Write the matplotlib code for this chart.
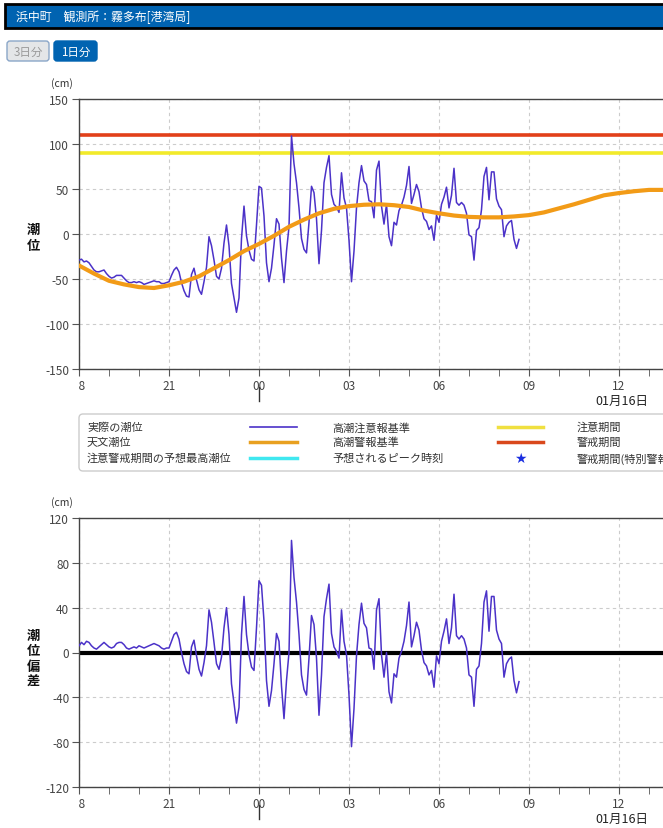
import matplotlib
matplotlib.use('Agg')
import matplotlib.pyplot as plt
import numpy as np
from matplotlib.patches import Rectangle, FancyBboxPatch
from matplotlib.lines import Line2D
from matplotlib.transforms import Bbox, TransformedBbox

plt.rcParams['font.family'] = ['Noto Sans CJK JP', 'DejaVu Sans']

# 観測値 (cm)  18:00 から 5分ごと、1行 = 1時間
STEP_MIN = 5
tide_obs = [
    -29, -28, -31, -30, -32, -36, -40, -42, -42, -41, -40, -44,   # 18時
    -47, -49, -48, -46, -46, -46, -49, -52, -54, -54, -53, -54,   # 19時
    -53, -54, -56, -55, -54, -53, -52, -53, -53, -55, -55, -54,   # 20時
    -53, -46, -40, -37, -42, -54, -63, -69, -70, -45, -38, -51,   # 21時
    -62, -67, -53, -37, -3, -13, -29, -47, -50, -38, -10, 10,     # 22時
    -13, -55, -71, -87, -71, -5, 31, -2, -18, -28, -30, 10,       # 23時
    53, 51, 20, -32, -53, -38, -12, 17, 11, -27, -54, -19,        # 00時
    8, 109, 78, 57, 29, -5, -17, -21, 13, 53, 46, 17,             # 01時
    -33, 4, 57, 74, 87, 44, 33, 30, 24, 68, 40, 29,               # 02時
    -7, -53, -19, 29, 57, 76, 59, 55, 37, 36, 18, 71,             # 03時
    81, 31, 11, 33, -3, -13, 13, 10, 26, 32, 41, 54,              # 04時
    75, 34, 44, 55, 47, 29, 17, 14, 5, 9, -7, 21,                 # 05時
    13, 33, 41, 52, 29, 43, 73, 35, 32, 35, 32, 23,               # 06時
    -1, -3, -29, 4, 7, 27, 64, 74, 38, 69, 69, 39,                # 07時
    31, 27, -3, 9, 13, 15, -6, -16, -6,                           # 08時
]

# 潮位偏差 (cm)  同じ時刻
tide_dev = [
    6, 9, 7, 10, 9, 6, 4, 3, 5, 7, 9, 7,
    5, 4, 5, 8, 9, 9, 7, 4, 3, 4, 5, 4,
    6, 5, 4, 5, 6, 7, 8, 7, 6, 4, 3, 4,
    4, 10, 16, 18, 12, 0, -10, -17, -19, 5, 11, -3,
    -15, -21, -9, 6, 38, 27, 9, -10, -15, -4, 22, 40,
    16, -28, -45, -63, -49, 16, 50, 16, -2, -13, -16, 22,
    64, 60, 28, -25, -48, -34, -10, 17, 10, -30, -59, -25,
    0, 100, 67, 45, 16, -20, -33, -38, -5, 33, 25, -5,
    -56, -20, 32, 48, 61, 17, 5, 1, -5, 38, 10, -2,
    -38, -84, -50, -3, 25, 44, 26, 22, 4, 3, -15, 38,
    48, -2, -22, 0, -35, -45, -19, -22, -5, 1, 10, 24,
    45, 5, 15, 27, 20, 2, -9, -12, -20, -16, -31, -3,
    -10, 10, 19, 30, 8, 22, 52, 15, 12, 15, 12, 4,
    -20, -22, -48, -15, -12, 8, 45, 55, 19, 50, 50, 20,
    12, 8, -22, -10, -6, -4, -25, -36, -26,
]

# 天文潮位 (cm)  18:00 から 30分ごと
ASTRO_STEP_MIN = 30
tide_astro = [
    -35, -44, -52, -56, -59, -60, -57, -53, -47, -38,
    -29, -19, -11, -2, 8, 16, 23, 28, 31, 32.5,
    33, 32, 30, 26, 23, 20.5, 19, 18.5, 18.5, 19.5,
    21, 24, 28.5, 33, 38, 43, 45.5, 47.5, 49, 49,
]

warn_level = 110       # 高潮警報基準
advisory_level = 90    # 高潮注意報基準

hour_ticks = [0, 3, 6, 9, 12, 15, 18]
hour_labels = ['18', '21', '00', '03', '06', '09', '12']
date_label = '01月16日'

legend_rows = [
    ['実際の潮位', '高潮注意報基準', '注意期間'],
    ['天文潮位', '高潮警報基準', '警戒期間'],
    ['注意警戒期間の予想最高潮位', '予想されるピーク時刻', '警戒期間(特別警報)'],
]

OBS_C = '#4b32c8'
ASTRO_C = '#f29b17'
WARN_C = '#e2401a'
ADV_C = '#f2ea2a'

W, H = 663, 829
fig = plt.figure(figsize=(W / 100, H / 100), dpi=100)
inch = fig.dpi_scale_trans


def rect(x0, y0, x1, y1):
    return [x0 / W, 1 - y1 / H, (x1 - x0) / W, (y1 - y0) / H]


def px(x, y):
    return x / 100, (H - y) / 100


# ヘッダー
fig.patches.append(Rectangle(px(5, 29), 700 / 100, 24 / 100, transform=inch,
                             facecolor='#0063b1', edgecolor='black', lw=2))
fig.text(*px(16, 17), '浜中町　観測所：霧多布[港湾局]', transform=inch,
         color='white', fontsize=8.6, va='center')

# ボタン
fig.patches.append(FancyBboxPatch(px(7, 62), 42 / 100, 20 / 100, transform=inch,
                                  boxstyle='round,pad=0,rounding_size=0.03',
                                  facecolor='#e4e6e8', edgecolor='#8aa6c8', lw=1))
fig.text(*px(28, 52), '3日分', transform=inch, color='#9a9a9a', fontsize=8.3,
         ha='center', va='center')
fig.patches.append(FancyBboxPatch(px(54, 62), 43 / 100, 20 / 100, transform=inch,
                                  boxstyle='round,pad=0,rounding_size=0.03',
                                  facecolor='#0063b1', edgecolor='#0063b1', lw=1))
fig.text(*px(75.5, 52), '1日分', transform=inch, color='white', fontsize=8.3,
         ha='center', va='center')

t_obs = np.arange(len(tide_obs)) * STEP_MIN / 60
t_astro = np.arange(len(tide_astro)) * ASTRO_STEP_MIN / 60
x_max = (W - 79) / 30


def style_axes(ax, top_px, bottom_px, yticks):
    ax.set_xlim(0, x_max)
    ax.set_yticks(yticks)
    ax.set_yticklabels([str(v) for v in yticks])
    ax.set_xticks(hour_ticks)
    ax.set_xticklabels(hour_labels)
    ax.set_xticks(np.arange(0, 20, 1), minor=True)
    ax.tick_params(axis='both', which='both', direction='out', length=5,
                   color='#555555', labelcolor='#444444', labelsize=8.5, pad=2)
    ax.grid(True, which='major', color='#cccccc', linestyle=(0, (3, 3)), lw=0.8)
    ax.set_axisbelow(True)
    ax.spines['right'].set_visible(False)
    for s in ['left', 'bottom', 'top']:
        ax.spines[s].set_color('#444444')
        ax.spines[s].set_linewidth(1)
    # 左端の "18" は欄の端で切れている
    lab = ax.xaxis.get_major_ticks()[0].label1
    lab.set_clip_box(TransformedBbox(Bbox([[78.5 / 100, 0], [W / 100, H / 100]]), inch))
    lab.set_clip_on(True)
    # 日付の区切り線と日付
    h = bottom_px - top_px
    ax.plot([6, 6], [-18 / h, -32 / h],
            transform=ax.get_xaxis_transform(), color='#333333', lw=1, clip_on=False)
    fig.text(*px(648, bottom_px + 31), date_label, transform=inch, ha='right',
             va='center', fontsize=9, color='#222222')
    fig.text(*px(62, top_px - 16), '(cm)', transform=inch, ha='center',
             va='center', fontsize=7.5, color='#333333')


# 上段: 潮位
ax1 = fig.add_axes(rect(79, 100, W, 370))
ax1.axhline(warn_level, color=WARN_C, lw=2.6, zorder=2)
ax1.axhline(advisory_level, color=ADV_C, lw=2.6, zorder=2)
ax1.plot(t_obs, tide_obs, color=OBS_C, lw=1.1, zorder=3)
ax1.plot(t_astro, tide_astro, color=ASTRO_C, lw=3, zorder=4,
         solid_capstyle='round')
ax1.set_ylim(-150, 150)
style_axes(ax1, 100, 370, list(range(-150, 151, 50)))
fig.text(*px(33, 238), '潮\n位', transform=inch, ha='center', va='center',
         fontsize=9.5, fontweight='bold', linespacing=1.1, color='#111111')

# 凡例
fig.patches.append(FancyBboxPatch(px(79, 472), 600 / 100, 57 / 100, transform=inch,
                                  boxstyle='round,pad=0,rounding_size=0.04',
                                  facecolor='white', edgecolor='#cccccc', lw=1))
col_x = [87, 332, 577]
row_y = [428, 443, 459]
samples = [
    [(OBS_C, 1.2), ('#f0e040', 2.5)],
    [('#e8a020', 2.5), ('#d9481c', 2.5)],
    [('#40e8f0', 2.5), None],
]
sample_x = [(250, 297), (498, 543)]
for r, labels in enumerate(legend_rows):
    for c, label in enumerate(labels):
        fig.text(*px(col_x[c], row_y[r]), label, transform=inch, va='center',
                 fontsize=8, color='#333333')
    for c in range(2):
        s = samples[r][c]
        x0, x1 = sample_x[c]
        if s is None:
            fig.text(*px((x0 + x1) / 2, row_y[r]), '★', transform=inch,
                     ha='center', va='center', fontsize=10, color='#1a2ee0',
                     family=['DejaVu Sans'])
        else:
            fig.add_artist(Line2D([x0 / 100, x1 / 100],
                                  [(H - row_y[r]) / 100] * 2, transform=inch,
                                  color=s[0], lw=s[1]))

# 下段: 潮位偏差
ax2 = fig.add_axes(rect(79, 519, W, 788))
ax2.axhline(0, color='black', lw=3, zorder=2)
ax2.plot(t_obs, tide_dev, color=OBS_C, lw=1.1, zorder=3)
ax2.set_ylim(-120, 120)
style_axes(ax2, 519, 788, list(range(-120, 121, 40)))
fig.text(*px(33, 659), '潮\n位\n偏\n差', transform=inch, ha='center', va='center',
         fontsize=9.5, fontweight='bold', linespacing=1.1, color='#111111')

fig.savefig('out.png', dpi=100)
